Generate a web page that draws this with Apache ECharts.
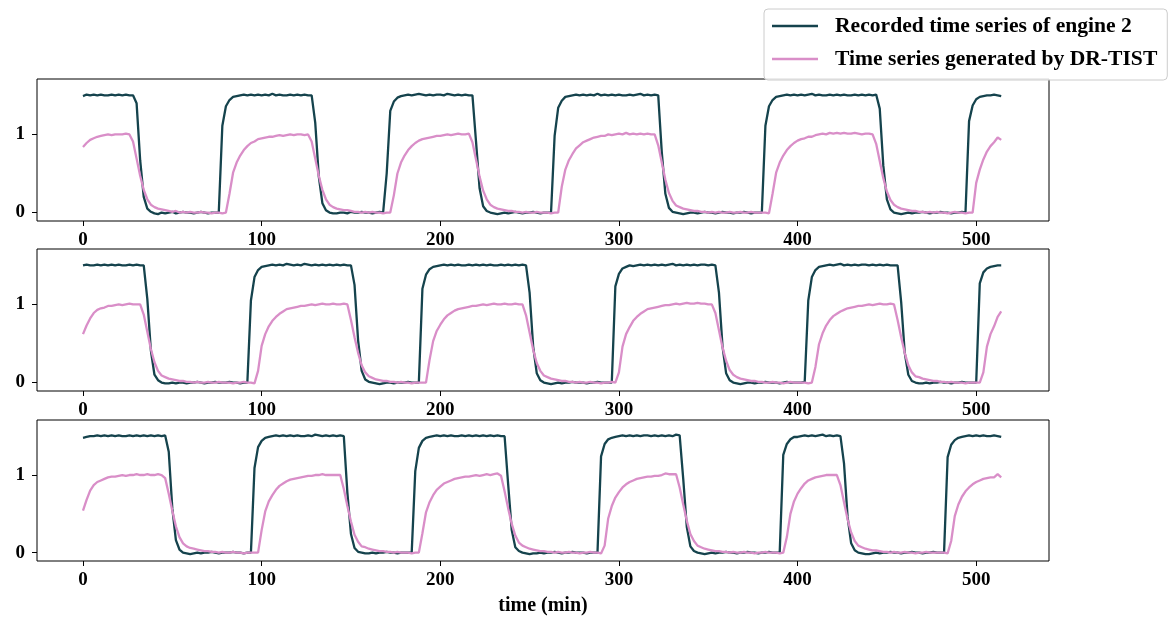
<!DOCTYPE html>
<html>
<head>
<meta charset="utf-8">
<script src="https://cdn.jsdelivr.net/npm/echarts@6/dist/echarts.min.js"></script>
<style>
html,body{margin:0;padding:0;background:#fff;}
#chart{width:1172px;height:619px;}
</style>
</head>
<body>
<div id="chart"></div>
<script>
// sampling step of every series (minutes)
const timeStep = 2;
const xTickValues = [0, 100, 200, 300, 400, 500];
const yTickValues = [0, 1];
const seriesNames = ['Recorded time series of engine 2', 'Time series generated by DR-TIST'];
const xAxisTitle = 'time (min)';

// subplot 1
const recorded1 = [
1.49,1.51,1.50,1.51,1.50,1.51,1.50,1.50,1.51,1.50,
1.51,1.50,1.51,1.50,1.50,1.40,0.67,0.20,0.05,0.01,
-0.01,-0.02,0.00,-0.01,0.00,0.01,-0.01,0.00,0.01,0.00,
0.00,-0.01,0.00,0.01,0.00,-0.01,0.00,0.00,0.00,1.11,
1.36,1.44,1.48,1.49,1.50,1.51,1.50,1.51,1.50,1.51,
1.50,1.51,1.50,1.52,1.50,1.51,1.50,1.50,1.51,1.50,
1.51,1.50,1.51,1.50,1.50,1.15,0.46,0.12,0.03,0.00,
-0.01,-0.01,0.00,0.00,-0.01,0.01,0.00,0.00,0.01,0.00,
0.00,-0.01,0.00,0.01,0.00,0.50,1.30,1.42,1.47,1.49,
1.50,1.51,1.50,1.51,1.52,1.51,1.50,1.51,1.50,1.51,
1.51,1.50,1.52,1.51,1.50,1.51,1.50,1.51,1.50,1.50,
0.91,0.31,0.08,0.02,0.00,-0.01,-0.02,-0.01,0.00,-0.01,
0.00,0.01,0.00,-0.01,0.00,0.00,0.01,0.00,-0.01,0.00,
0.00,0.00,0.98,1.34,1.43,1.48,1.49,1.50,1.51,1.50,
1.51,1.50,1.51,1.50,1.52,1.50,1.51,1.50,1.51,1.50,
1.51,1.50,1.50,1.51,1.50,1.51,1.52,1.50,1.51,1.50,
1.51,1.50,0.77,0.24,0.06,0.01,0.00,-0.01,-0.02,-0.01,
0.00,0.00,-0.01,0.00,0.01,0.00,0.00,-0.01,0.00,0.01,
0.00,0.00,-0.01,0.00,0.00,0.01,0.00,-0.01,0.00,0.00,
0.00,1.11,1.36,1.44,1.48,1.49,1.50,1.51,1.50,1.51,
1.50,1.51,1.50,1.51,1.52,1.50,1.51,1.50,1.50,1.51,
1.50,1.51,1.50,1.51,1.50,1.50,1.51,1.50,1.51,1.50,
1.51,1.50,1.51,1.33,0.60,0.17,0.04,0.00,-0.01,-0.02,
-0.01,0.00,-0.01,0.00,0.00,0.01,0.00,-0.01,0.00,0.00,
0.01,0.00,0.00,-0.01,0.00,0.00,0.01,0.00,1.17,1.37,
1.45,1.48,1.49,1.50,1.50,1.51,1.50,1.49
];
const generated1 = [
0.84,0.89,0.93,0.95,0.97,0.98,0.99,1.00,0.99,1.00,
1.00,1.00,1.01,1.00,0.91,0.69,0.47,0.29,0.17,0.10,
0.07,0.05,0.04,0.03,0.02,0.01,0.02,0.00,0.01,0.00,
0.01,0.00,0.00,0.01,0.00,0.00,-0.01,0.00,0.00,-0.01,
0.00,0.24,0.51,0.64,0.73,0.80,0.85,0.89,0.91,0.94,
0.95,0.96,0.97,0.97,0.98,0.99,0.98,0.99,1.00,0.99,
1.00,1.00,0.99,1.00,0.91,0.69,0.47,0.29,0.17,0.10,
0.07,0.05,0.04,0.03,0.03,0.02,0.01,0.01,0.00,0.01,
0.00,0.01,0.00,0.00,-0.01,0.00,0.00,0.22,0.50,0.64,
0.73,0.80,0.85,0.89,0.92,0.94,0.95,0.96,0.97,0.98,
0.98,0.99,1.00,0.99,1.00,1.01,1.00,1.00,1.01,0.90,
0.68,0.46,0.28,0.17,0.10,0.07,0.05,0.04,0.03,0.02,
0.02,0.01,0.01,0.00,0.01,0.00,0.00,0.01,0.00,0.00,
0.00,-0.01,0.00,0.00,0.33,0.55,0.67,0.75,0.82,0.86,
0.90,0.92,0.94,0.96,0.97,0.98,0.98,1.00,0.99,1.00,
1.01,1.00,1.02,1.00,1.01,1.00,1.01,1.00,1.01,1.00,
1.00,0.86,0.64,0.42,0.25,0.15,0.09,0.07,0.05,0.04,
0.03,0.02,0.02,0.01,0.01,0.00,0.01,0.00,0.01,0.00,
0.00,0.01,0.00,0.00,0.01,0.00,0.00,0.01,0.00,0.00,
0.00,0.00,-0.01,0.24,0.51,0.64,0.73,0.80,0.85,0.89,
0.92,0.94,0.95,0.97,0.97,0.99,1.00,1.01,1.00,1.02,
1.01,1.02,1.01,1.02,1.01,1.01,1.02,1.01,1.00,1.01,
1.01,1.00,0.88,0.66,0.44,0.27,0.16,0.10,0.07,0.05,
0.04,0.03,0.02,0.02,0.01,0.01,0.00,0.01,0.00,0.01,
0.00,0.00,-0.01,0.00,0.01,0.00,0.00,-0.01,0.00,0.00,
0.38,0.55,0.68,0.78,0.85,0.90,0.96,0.93
];

// subplot 2
const recorded2 = [
1.50,1.51,1.50,1.50,1.51,1.50,1.51,1.50,1.51,1.50,
1.51,1.50,1.50,1.51,1.50,1.51,1.50,1.50,1.07,0.41,
0.10,0.03,0.00,-0.01,-0.01,0.00,-0.01,0.00,0.00,-0.01,
0.00,0.00,0.01,0.00,-0.01,0.00,0.00,0.01,0.00,0.00,
0.00,0.01,0.00,0.00,-0.01,0.00,0.00,1.05,1.35,1.44,
1.48,1.49,1.50,1.51,1.50,1.51,1.50,1.52,1.51,1.50,
1.51,1.50,1.52,1.51,1.50,1.51,1.50,1.51,1.50,1.51,
1.50,1.51,1.50,1.51,1.50,1.50,1.25,0.54,0.15,0.04,
0.01,0.00,-0.01,-0.02,-0.01,0.00,0.00,-0.01,0.00,0.00,
0.00,0.01,0.00,0.00,0.00,1.20,1.38,1.45,1.48,1.49,
1.50,1.51,1.50,1.51,1.50,1.51,1.50,1.50,1.51,1.50,
1.51,1.50,1.51,1.50,1.51,1.50,1.50,1.51,1.50,1.51,
1.50,1.51,1.50,1.51,1.50,1.15,0.46,0.12,0.03,0.00,
-0.01,-0.02,-0.01,0.00,-0.01,0.00,0.00,0.01,0.00,0.00,
0.00,-0.01,0.00,0.00,0.01,0.00,0.00,0.00,0.00,1.23,
1.39,1.46,1.48,1.50,1.49,1.50,1.51,1.50,1.51,1.50,
1.51,1.50,1.51,1.50,1.51,1.52,1.50,1.51,1.50,1.51,
1.50,1.51,1.50,1.51,1.51,1.50,1.51,1.50,1.15,0.46,
0.12,0.03,0.00,-0.01,-0.02,-0.01,0.00,0.00,-0.01,0.00,
0.00,0.01,0.00,0.00,0.00,-0.01,0.00,0.01,0.00,0.00,
0.00,0.00,0.01,1.05,1.35,1.44,1.48,1.49,1.50,1.51,
1.50,1.51,1.52,1.50,1.51,1.50,1.51,1.50,1.51,1.51,
1.50,1.51,1.50,1.51,1.50,1.51,1.50,1.50,1.50,1.03,
0.38,0.10,0.02,0.00,-0.01,-0.01,0.00,-0.01,0.00,0.00,
0.01,0.00,0.00,-0.01,0.00,0.00,0.01,0.00,0.00,0.00,
0.00,1.27,1.41,1.46,1.48,1.49,1.50,1.50
];
const generated2 = [
0.62,0.73,0.82,0.89,0.93,0.95,0.96,0.98,0.98,0.99,
1.00,0.99,1.00,1.01,1.00,1.00,1.00,0.87,0.65,0.43,
0.26,0.15,0.09,0.07,0.05,0.04,0.03,0.02,0.02,0.01,
0.01,0.00,0.01,0.00,0.00,0.01,0.00,0.00,0.01,0.00,
0.00,0.00,-0.01,0.00,0.00,0.01,0.00,0.00,-0.01,0.15,
0.47,0.62,0.72,0.79,0.84,0.88,0.91,0.94,0.95,0.96,
0.97,0.98,0.98,0.99,1.00,0.99,1.00,1.01,1.00,1.00,
1.01,1.00,1.00,1.01,1.00,0.80,0.58,0.38,0.22,0.13,
0.08,0.06,0.04,0.03,0.02,0.02,0.01,0.01,0.00,0.01,
0.00,0.00,-0.01,0.00,0.00,0.00,0.00,0.29,0.53,0.66,
0.74,0.81,0.86,0.89,0.92,0.94,0.95,0.96,0.97,0.98,
0.98,0.99,1.00,0.99,1.00,1.01,1.00,1.00,1.01,1.00,
1.00,1.01,1.00,1.00,0.86,0.64,0.42,0.25,0.15,0.09,
0.07,0.05,0.04,0.03,0.02,0.02,0.01,0.01,0.00,0.01,
0.00,0.00,0.01,0.00,0.00,-0.01,0.00,0.00,0.01,0.00,
0.13,0.46,0.62,0.71,0.79,0.84,0.88,0.91,0.94,0.95,
0.96,0.97,0.98,0.99,0.99,1.00,1.01,1.00,1.01,1.02,
1.01,1.01,1.02,1.01,1.01,1.00,1.00,0.89,0.67,0.45,
0.28,0.16,0.10,0.07,0.05,0.04,0.03,0.02,0.02,0.01,
0.01,0.00,0.00,0.01,0.00,0.00,-0.01,0.00,0.01,0.00,
0.00,0.00,0.00,-0.01,0.00,0.20,0.49,0.63,0.73,0.80,
0.85,0.88,0.91,0.93,0.95,0.96,0.97,0.98,0.98,0.99,
1.00,0.99,1.00,1.01,1.00,1.00,1.01,1.00,0.80,0.58,
0.38,0.22,0.13,0.08,0.07,0.05,0.04,0.03,0.02,0.02,
0.01,0.01,0.00,0.01,0.00,0.00,0.00,-0.01,0.00,0.00,
0.00,0.00,0.13,0.46,0.62,0.72,0.84,0.91
];

// subplot 3
const recorded3 = [
1.48,1.49,1.50,1.50,1.51,1.50,1.51,1.50,1.51,1.50,
1.51,1.50,1.50,1.51,1.50,1.51,1.50,1.51,1.50,1.51,
1.50,1.51,1.50,1.51,1.30,0.57,0.16,0.04,0.00,-0.01,
-0.02,-0.01,0.00,-0.01,0.00,0.00,0.01,0.00,-0.01,0.00,
0.00,0.00,0.01,0.00,0.00,-0.01,0.00,0.00,1.09,1.36,
1.44,1.48,1.49,1.50,1.51,1.50,1.51,1.50,1.51,1.50,
1.51,1.50,1.50,1.51,1.50,1.52,1.51,1.50,1.51,1.50,
1.51,1.50,1.51,1.50,0.77,0.24,0.06,0.01,0.00,-0.01,
-0.01,0.00,-0.01,0.00,0.00,0.01,0.00,0.00,-0.01,0.00,
0.00,0.00,0.00,1.05,1.35,1.44,1.48,1.49,1.50,1.51,
1.50,1.51,1.50,1.51,1.50,1.50,1.51,1.50,1.51,1.50,
1.51,1.50,1.51,1.50,1.51,1.50,1.51,1.50,1.50,0.88,
0.29,0.07,0.02,0.00,-0.01,-0.02,-0.01,-0.01,0.00,-0.01,
0.00,0.00,0.01,0.00,-0.01,0.00,0.00,0.01,0.00,0.00,
0.00,-0.01,0.00,0.00,0.00,1.24,1.40,1.46,1.48,1.49,
1.50,1.51,1.50,1.51,1.50,1.51,1.50,1.51,1.51,1.50,
1.51,1.50,1.51,1.50,1.51,1.50,1.52,1.51,0.95,0.33,
0.08,0.02,0.00,-0.01,-0.02,-0.01,0.00,-0.01,0.00,0.00,
0.01,0.00,0.00,-0.01,0.00,0.00,0.01,0.00,0.00,-0.01,
0.00,0.00,0.01,0.00,0.00,0.00,1.26,1.40,1.46,1.49,
1.49,1.50,1.51,1.50,1.51,1.50,1.51,1.52,1.50,1.51,
1.50,1.51,1.50,1.15,0.46,0.12,0.03,0.00,-0.01,-0.02,
-0.02,-0.01,0.00,-0.01,0.00,0.00,0.01,0.00,0.00,-0.01,
0.00,0.00,0.01,0.00,0.00,-0.01,0.00,0.00,0.01,0.00,
0.00,0.00,1.23,1.39,1.45,1.48,1.49,1.50,1.51,1.50,
1.51,1.50,1.51,1.50,1.50,1.51,1.50,1.49
];
const generated3 = [
0.54,0.68,0.80,0.87,0.91,0.93,0.95,0.97,0.98,0.98,
0.99,1.00,0.99,1.00,1.00,1.01,1.00,1.00,1.01,1.00,
1.00,1.01,1.00,0.96,0.76,0.54,0.34,0.20,0.12,0.08,
0.06,0.05,0.04,0.03,0.02,0.02,0.01,0.01,0.00,0.01,
0.00,0.00,0.01,0.00,0.00,-0.01,0.00,0.00,0.00,0.00,
0.29,0.53,0.66,0.74,0.81,0.86,0.89,0.92,0.94,0.95,
0.96,0.97,0.98,0.99,0.99,1.00,1.00,1.01,1.00,1.00,
1.00,1.00,1.00,0.82,0.60,0.40,0.23,0.14,0.08,0.07,
0.05,0.04,0.03,0.02,0.02,0.01,0.01,0.00,0.01,0.00,
0.00,0.00,-0.01,0.00,0.00,0.25,0.52,0.65,0.74,0.81,
0.85,0.89,0.91,0.93,0.95,0.96,0.97,0.98,0.98,0.99,
1.00,0.99,1.00,1.01,1.00,1.01,1.02,0.99,0.79,0.57,
0.37,0.22,0.13,0.09,0.07,0.05,0.04,0.03,0.02,0.02,
0.01,0.01,0.00,0.01,0.00,0.00,0.01,0.00,0.00,-0.01,
0.00,0.00,0.01,0.00,0.00,-0.01,0.09,0.44,0.60,0.71,
0.78,0.84,0.88,0.91,0.93,0.95,0.96,0.97,0.98,0.98,
0.99,0.99,1.00,1.02,1.01,1.01,1.01,0.84,0.62,0.41,
0.24,0.15,0.09,0.07,0.05,0.04,0.03,0.02,0.02,0.01,
0.01,0.00,0.01,0.00,0.00,0.01,0.00,0.00,-0.01,0.00,
0.00,0.01,0.00,0.00,0.00,-0.01,0.00,0.20,0.50,0.66,
0.76,0.83,0.89,0.93,0.95,0.97,0.98,0.99,1.00,1.00,
1.00,1.00,0.87,0.65,0.43,0.26,0.15,0.09,0.07,0.05,
0.04,0.03,0.03,0.02,0.01,0.01,0.00,0.01,0.00,0.00,
0.01,0.00,0.00,-0.01,0.00,0.00,0.01,0.00,0.00,0.00,
0.00,0.00,-0.01,0.15,0.47,0.62,0.72,0.79,0.84,0.88,
0.91,0.93,0.95,0.96,0.97,0.97,1.01,0.97
];

const recordedSets = [recorded1, recorded2, recorded3];
const generatedSets = [generated1, generated2, generated3];

// ---- styling / layout ----
const COLOR_REC = '#15434d';
const COLOR_GEN = '#d98ec8';
const FONT = "'Liberation Serif', 'Times New Roman', serif";
const gridTops = [79, 249, 420];
const gridHeights = [142, 142, 141];

const toPairs = arr => arr.map((v, i) => [i * timeStep, v]);

const grids = [], xAxes = [], yAxes = [], series = [];
for (let g = 0; g < 3; g++) {
  grids.push({
    left: 37, width: 1012, top: gridTops[g], height: gridHeights[g],
    show: true, borderColor: '#000', borderWidth: 1, backgroundColor: 'transparent',
    containLabel: false
  });
  const xa = {
    type: 'value', gridIndex: g, min: -25.75, max: 540.75,
    splitLine: { show: false },
    axisLine: { show: false, onZero: false },
    axisTick: { show: true, customValues: xTickValues, length: 5, inside: false, lineStyle: { color: '#000', width: 1 } },
    axisLabel: { customValues: xTickValues, margin: 10, color: '#000', fontFamily: FONT, fontWeight: 'bold', fontSize: 19, lineHeight: 19 }
  };
  if (g === 2) {
    xa.name = xAxisTitle;
    xa.nameLocation = 'middle';
    xa.nameGap = 35;
    xa.nameTextStyle = { color: '#000', fontFamily: FONT, fontWeight: 'bold', fontSize: 20, lineHeight: 20 };
  }
  xAxes.push(xa);
  yAxes.push({
    type: 'value', gridIndex: g, min: -0.108, max: 1.709,
    splitLine: { show: false },
    axisLine: { show: false, onZero: false },
    axisTick: { show: true, customValues: yTickValues, length: 5, lineStyle: { color: '#000', width: 1 } },
    axisLabel: { customValues: yTickValues, margin: 12, color: '#000', fontFamily: FONT, fontWeight: 'bold', fontSize: 19, lineHeight: 19 }
  });
  series.push({
    type: 'line', name: seriesNames[0], xAxisIndex: g, yAxisIndex: g,
    data: toPairs(recordedSets[g]), showSymbol: false, symbol: 'none',
    lineStyle: { color: COLOR_REC, width: 2.3 }, itemStyle: { color: COLOR_REC },
    z: 2, clip: true
  });
  series.push({
    type: 'line', name: seriesNames[1], xAxisIndex: g, yAxisIndex: g,
    data: toPairs(generatedSets[g]), showSymbol: false, symbol: 'none',
    lineStyle: { color: COLOR_GEN, width: 2.3 }, itemStyle: { color: COLOR_GEN },
    z: 3, clip: true
  });
}

const chart = echarts.init(document.getElementById('chart'), null, { renderer: 'canvas' });
chart.setOption({
  animation: false,
  backgroundColor: '#fff',
  grid: grids,
  xAxis: xAxes,
  yAxis: yAxes,
  legend: {
    data: seriesNames,
    orient: 'vertical',
    left: 764, top: 9,
    padding: [6, 10, 10, 8],
    itemGap: 11,
    itemWidth: 46, itemHeight: 2.3,
    icon: 'rect',
    backgroundColor: 'rgba(255,255,255,0.85)',
    borderColor: '#cccccc', borderWidth: 1, borderRadius: 4,
    textStyle: { color: '#000', fontFamily: FONT, fontWeight: 'bold', fontSize: 21.6, lineHeight: 20, padding: [0, 0, 0, 12] },
    z: 10
  },
  series: series
});
</script>
</body>
</html>
